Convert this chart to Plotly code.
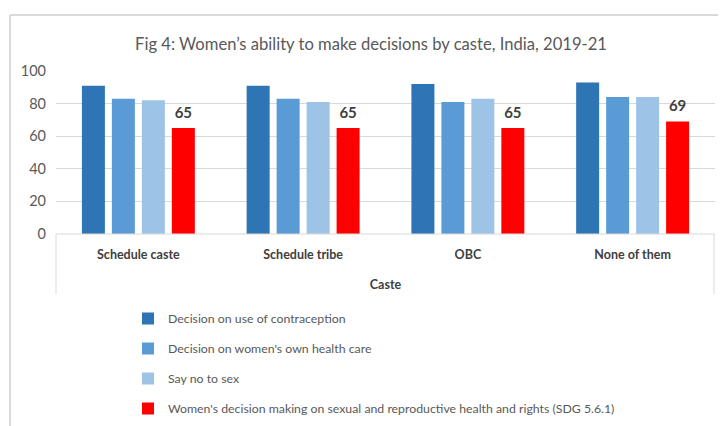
import plotly.graph_objects as go

categories = ["Schedule caste", "Schedule tribe", "OBC", "None of them"]
series_names = [
    "Decision on use of contraception",
    "Decision on women's own health care",
    "Say no to sex",
    "Women's decision making on sexual and reproductive health and rights (SDG 5.6.1)",
]
contraception = [91, 91, 92, 93]
health_care = [83, 83, 81, 84]
say_no = [82, 81, 83, 84]
sdg = [65, 65, 65, 69]
colors = ["#2E75B6", "#5B9BD5", "#9DC3E6", "#FF0000"]

FONT = "Lato, Open Sans, sans-serif"
GRAY = "#595959"

fig = go.Figure()
for i, (name, vals) in enumerate(zip(series_names, [contraception, health_care, say_no, sdg])):
    kw = {}
    if i == 3:
        kw = dict(text=[f"<span style='font-size:15px'><b>{v}</b></span><br> " for v in vals],
                  textposition="outside", constraintext="none",
                  textfont=dict(family=FONT, size=5, color="#404040"),
                  cliponaxis=False)
    fig.add_trace(go.Bar(x=categories, y=vals, name=name, marker_color=colors[i],
                         marker_line_width=0, legendgroup=f"g{i}", **kw))

# page body adds an 8px offset; work in reference pixel coordinates
OFF = 8
W, H = 726 - OFF, 426 - OFF
L, R, T, B = 56 - OFF, 715 - OFF, 71 - OFF, 234 - OFF
pw, ph = R - L, B - T

def px(x):
    return (x - OFF - L) / pw

def py(y):
    return (B - (y - OFF)) / ph

shapes = [
    dict(type="line", xref="paper", yref="paper", x0=px(10), x1=px(726), y0=py(15), y1=py(15),
         line=dict(color="#d9d9d9", width=2)),
    dict(type="line", xref="paper", yref="paper", x0=px(10), x1=px(10), y0=py(15), y1=py(426),
         line=dict(color="#d9d9d9", width=2)),
    dict(type="line", xref="paper", yref="paper", x0=px(56), x1=px(56), y0=py(234), y1=py(294),
         line=dict(color="#d9d9d9", width=1)),
    dict(type="line", xref="paper", yref="paper", x0=px(714), x1=px(714), y0=py(234), y1=py(294),
         line=dict(color="#d9d9d9", width=1)),
    dict(type="line", xref="paper", yref="paper", x0=0, x1=1, y0=0, y1=0,
         line=dict(color="#d9d9d9", width=1)),
]

fig.update_layout(
    width=W, height=H,
    margin=dict(l=L, r=W - R, t=T, b=H - B, autoexpand=False),
    paper_bgcolor="white", plot_bgcolor="white",
    barmode="group", bargap=0.272, bargroupgap=0.233,
    title=dict(text="Fig 4: Women’s ability to make decisions by caste, India, 2019-21",
               x=(371 - OFF) / W, xanchor="center", y=1 - (44 - OFF) / H, yanchor="middle",
               font=dict(family=FONT, size=16.6, color=GRAY)),
    yaxis=dict(range=[0, 100], dtick=20, showgrid=True, gridcolor="#d9d9d9", gridwidth=1,
               zeroline=False, showline=False, ticks="", ticklabelstandoff=9,
               tickfont=dict(family=FONT, size=14.5, color=GRAY)),
    xaxis=dict(showline=False, ticks="", ticklabelstandoff=11,
               tickfont=dict(family=FONT, size=12.5, color="#404040", weight="bold"),
               title=dict(text="Caste", standoff=19,
                          font=dict(family=FONT, size=12.5, color="#404040", weight="bold"))),
    showlegend=True,
    legend=dict(orientation="v", x=px(128), xanchor="left", y=py(304), yanchor="top",
                tracegroupgap=11, itemwidth=30,
                font=dict(family=FONT, size=12.3, color=GRAY)),
    shapes=shapes,
)

fig.write_html("out.html")
